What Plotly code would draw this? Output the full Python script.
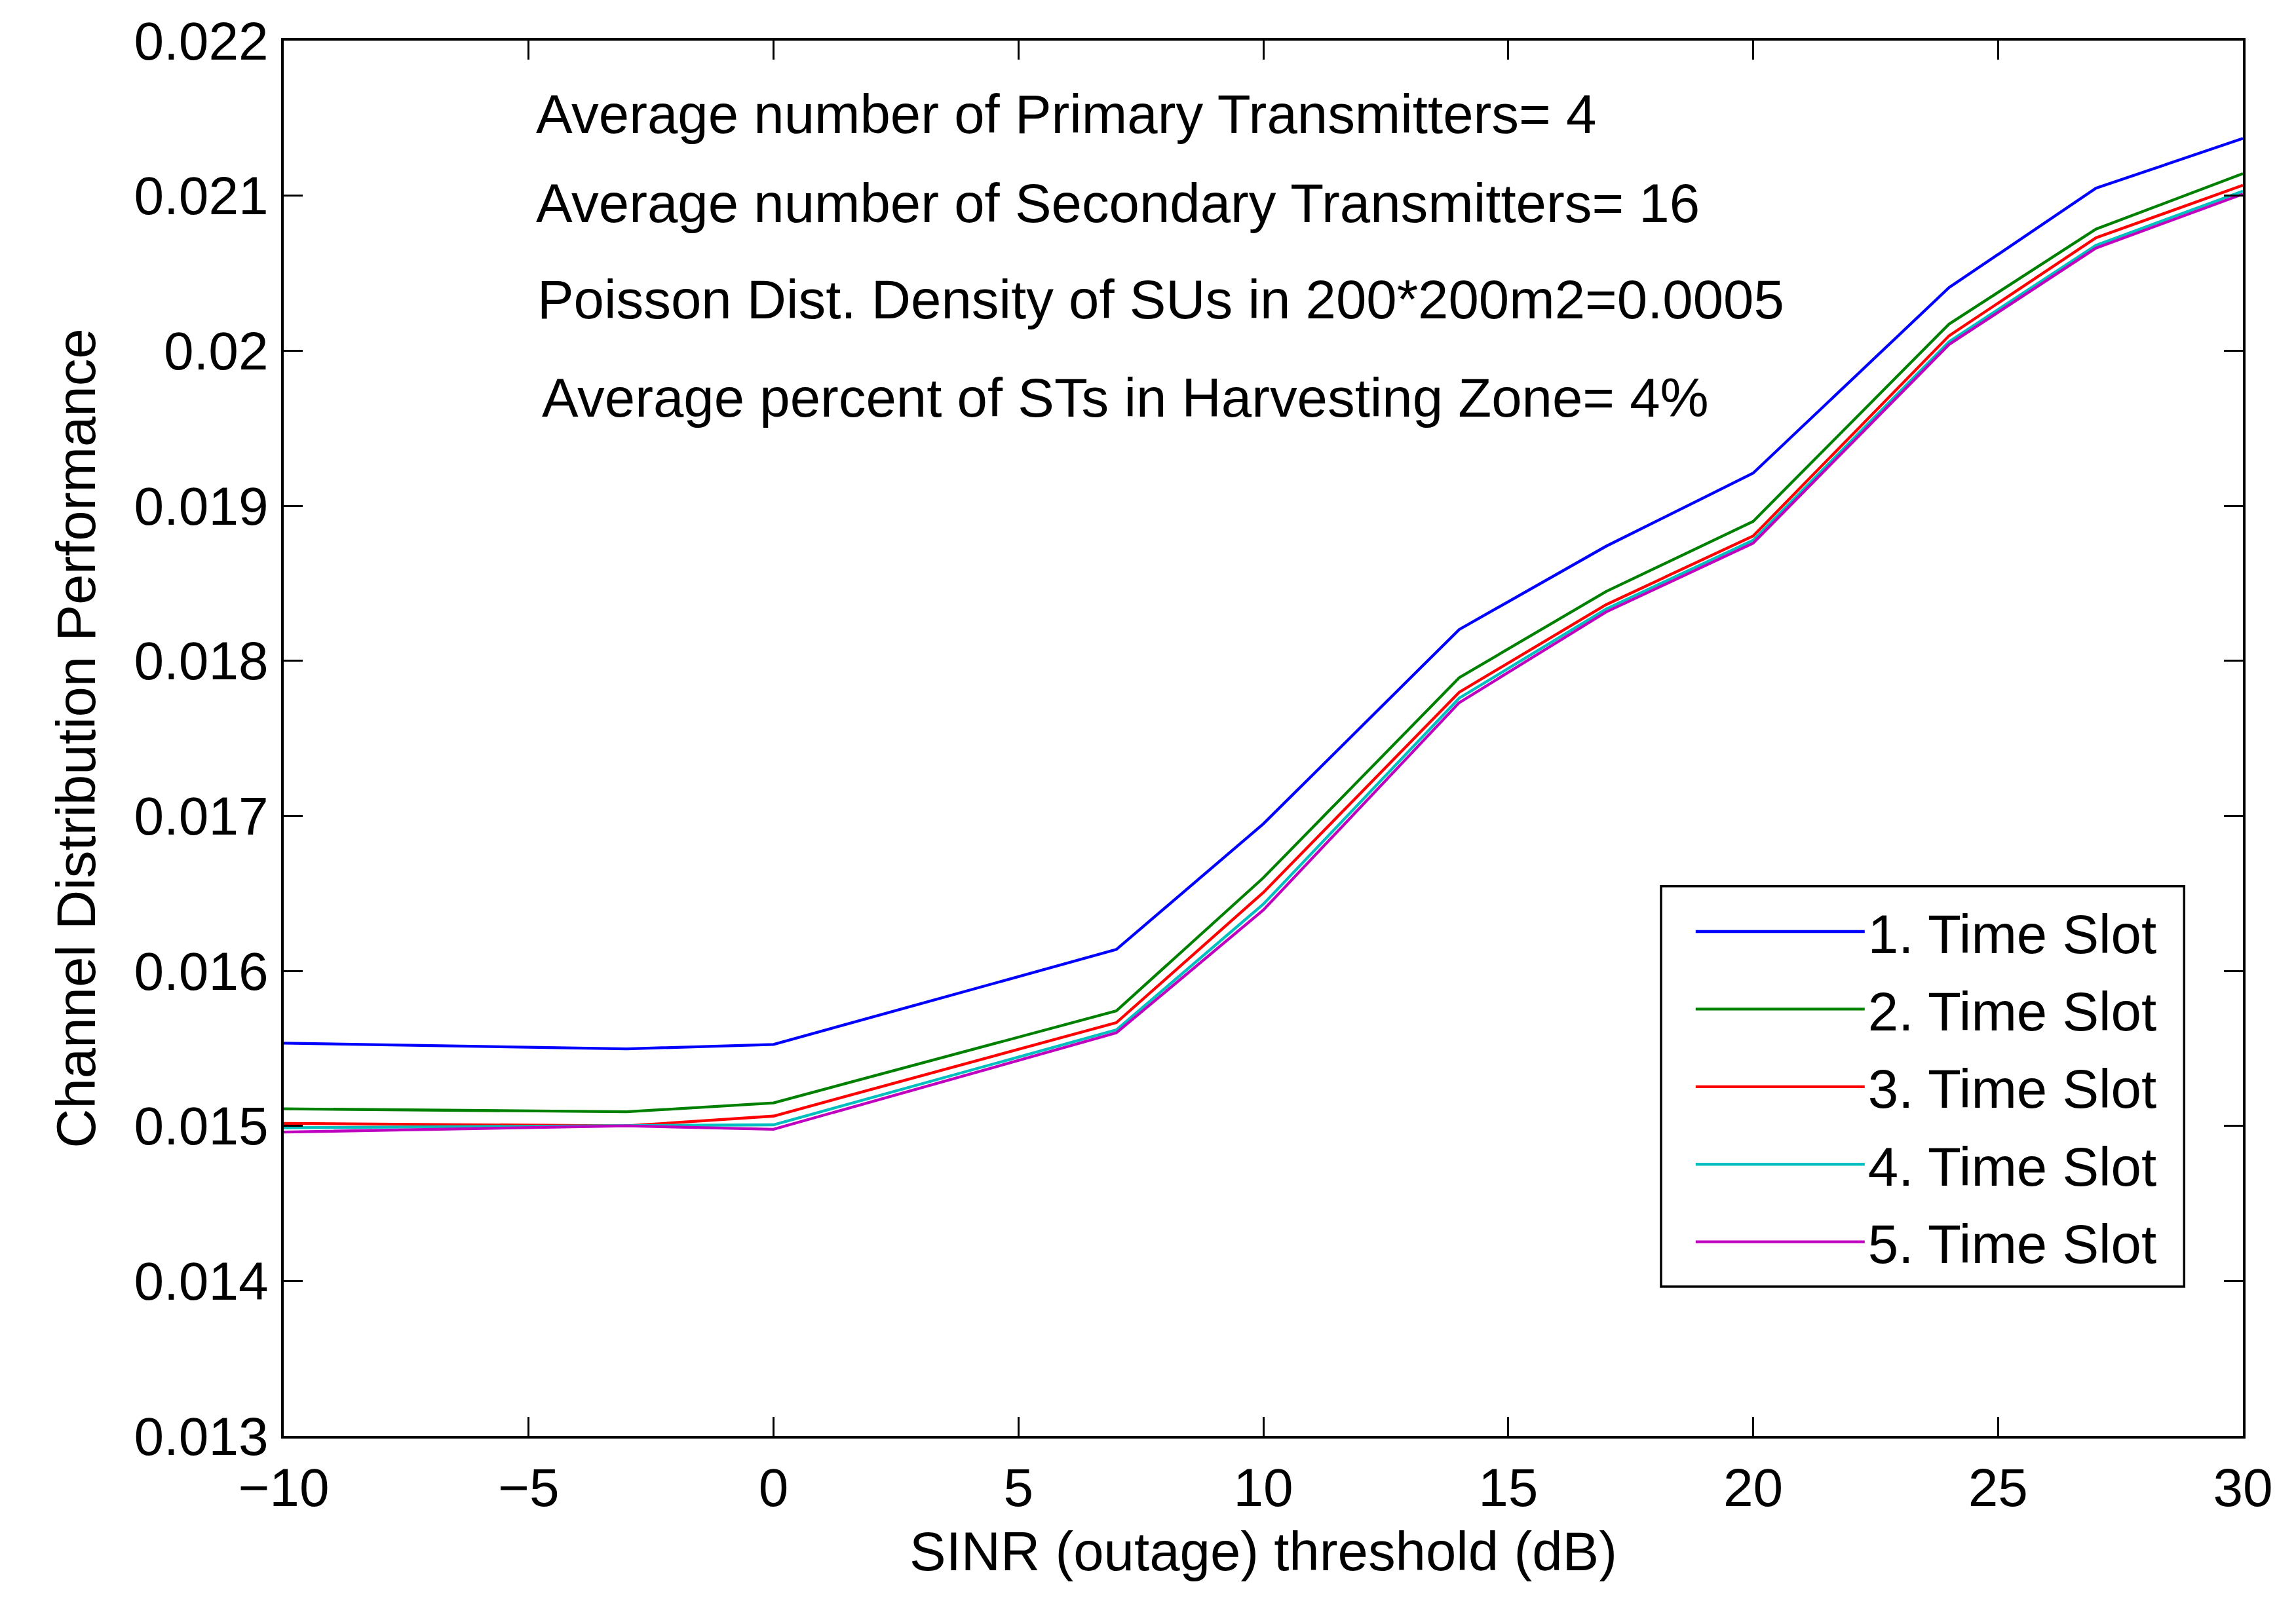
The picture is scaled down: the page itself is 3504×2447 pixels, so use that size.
import plotly.graph_objects as go

# ---- data ----
sinr_db = [-10, -3, 0, 7, 10, 14, 17, 20, 24, 27, 30]
slot1 = [0.015534, 0.015497, 0.015525, 0.016138, 0.016948, 0.018202, 0.018739, 0.019210, 0.020407, 0.021048, 0.021369]
slot2 = [0.015110, 0.015091, 0.015148, 0.015742, 0.016600, 0.017891, 0.018447, 0.018899, 0.020172, 0.020784, 0.021142]
slot3 = [0.015016, 0.015000, 0.015063, 0.015666, 0.016505, 0.017797, 0.018362, 0.018805, 0.020096, 0.020728, 0.021067]
slot4 = [0.014988, 0.015000, 0.015007, 0.015619, 0.016430, 0.017759, 0.018334, 0.018777, 0.020058, 0.020680, 0.021029]
slot5 = [0.014960, 0.015000, 0.014978, 0.015600, 0.016392, 0.017730, 0.018315, 0.018758, 0.020040, 0.020662, 0.021010]
series = [slot1, slot2, slot3, slot4, slot5]
names = ["1. Time Slot", "2. Time Slot", "3. Time Slot", "4. Time Slot", "5. Time Slot"]
colors = ["#0000ff", "#008000", "#ff0000", "#00bfbf", "#bf00bf"]

x_ticks = [-10, -5, 0, 5, 10, 15, 20, 25, 30]
y_ticks = [0.013, 0.014, 0.015, 0.016, 0.017, 0.018, 0.019, 0.020, 0.021, 0.022]
y_tick_labels = ["0.013", "0.014", "0.015", "0.016", "0.017", "0.018", "0.019", "0.02", "0.021", "0.022"]

notes = [
    "Average number of Primary Transmitters= 4",
    "Average number of Secondary Transmitters= 16",
    "Poisson Dist. Density of SUs in 200*200m2=0.0005",
    "Average percent of STs in Harvesting Zone= 4%",
]
note_x = [-4.88, -4.88, -4.85, -4.76]
note_y = [0.021525, 0.020950, 0.020328, 0.019697]

FONT = "Liberation Sans, Arial, Helvetica, sans-serif"
FS_TEXT = 83.4
FS_TICK = 82

fig = go.Figure()
for vals, name, col in zip(series, names, colors):
    fig.add_trace(go.Scatter(x=sinr_db, y=vals, mode="lines", name=name,
                             legendgroup=name,
                             line=dict(color=col, width=4.3)))

for t, xx, yy in zip(notes, note_x, note_y):
    fig.add_annotation(x=xx, y=yy, xref="x", yref="y", text=t, showarrow=False,
                       xanchor="left", yanchor="middle",
                       font=dict(family=FONT, size=FS_TEXT, color="black"))

# legend frame
fig.add_shape(type="rect", xref="paper", yref="paper",
              x0=0.703, x1=0.970, y0=0.107, y1=0.394,
              line=dict(color="black", width=3.5), fillcolor="white", layer="below")

axis_common = dict(showgrid=False, zeroline=False, showline=True, linecolor="black",
                   linewidth=4, mirror="ticks", ticks="inside", ticklen=29,
                   tickwidth=3, tickcolor="black",
                   tickfont=dict(family=FONT, size=FS_TICK, color="black"))

fig.update_xaxes(range=[-10, 30], tickvals=x_ticks, ticklabelstandoff=5,
                 title=dict(text="SINR (outage) threshold (dB)", standoff=24,
                            font=dict(family=FONT, size=FS_TEXT, color="black")),
                 **axis_common)
fig.update_yaxes(range=[0.013, 0.022], tickvals=y_ticks, ticktext=y_tick_labels,
                 ticklabelstandoff=3,
                 title=dict(text="Channel Distribution Performance", standoff=32,
                            font=dict(family=FONT, size=FS_TEXT, color="black")),
                 **axis_common)

fig.update_layout(
    width=3504, height=2447,
    margin=dict(l=425, r=89, t=54, b=263, autoexpand=False),
    paper_bgcolor="white", plot_bgcolor="white",
    font=dict(family=FONT, size=FS_TEXT, color="black"),
    legend=dict(x=0.719, y=0.390, xanchor="left", yanchor="top",
                bgcolor="rgba(0,0,0,0)", borderwidth=0,
                font=dict(family=FONT, size=FS_TEXT, color="black"),
                itemwidth=258, tracegroupgap=7),
)

fig.write_html("out.html")
